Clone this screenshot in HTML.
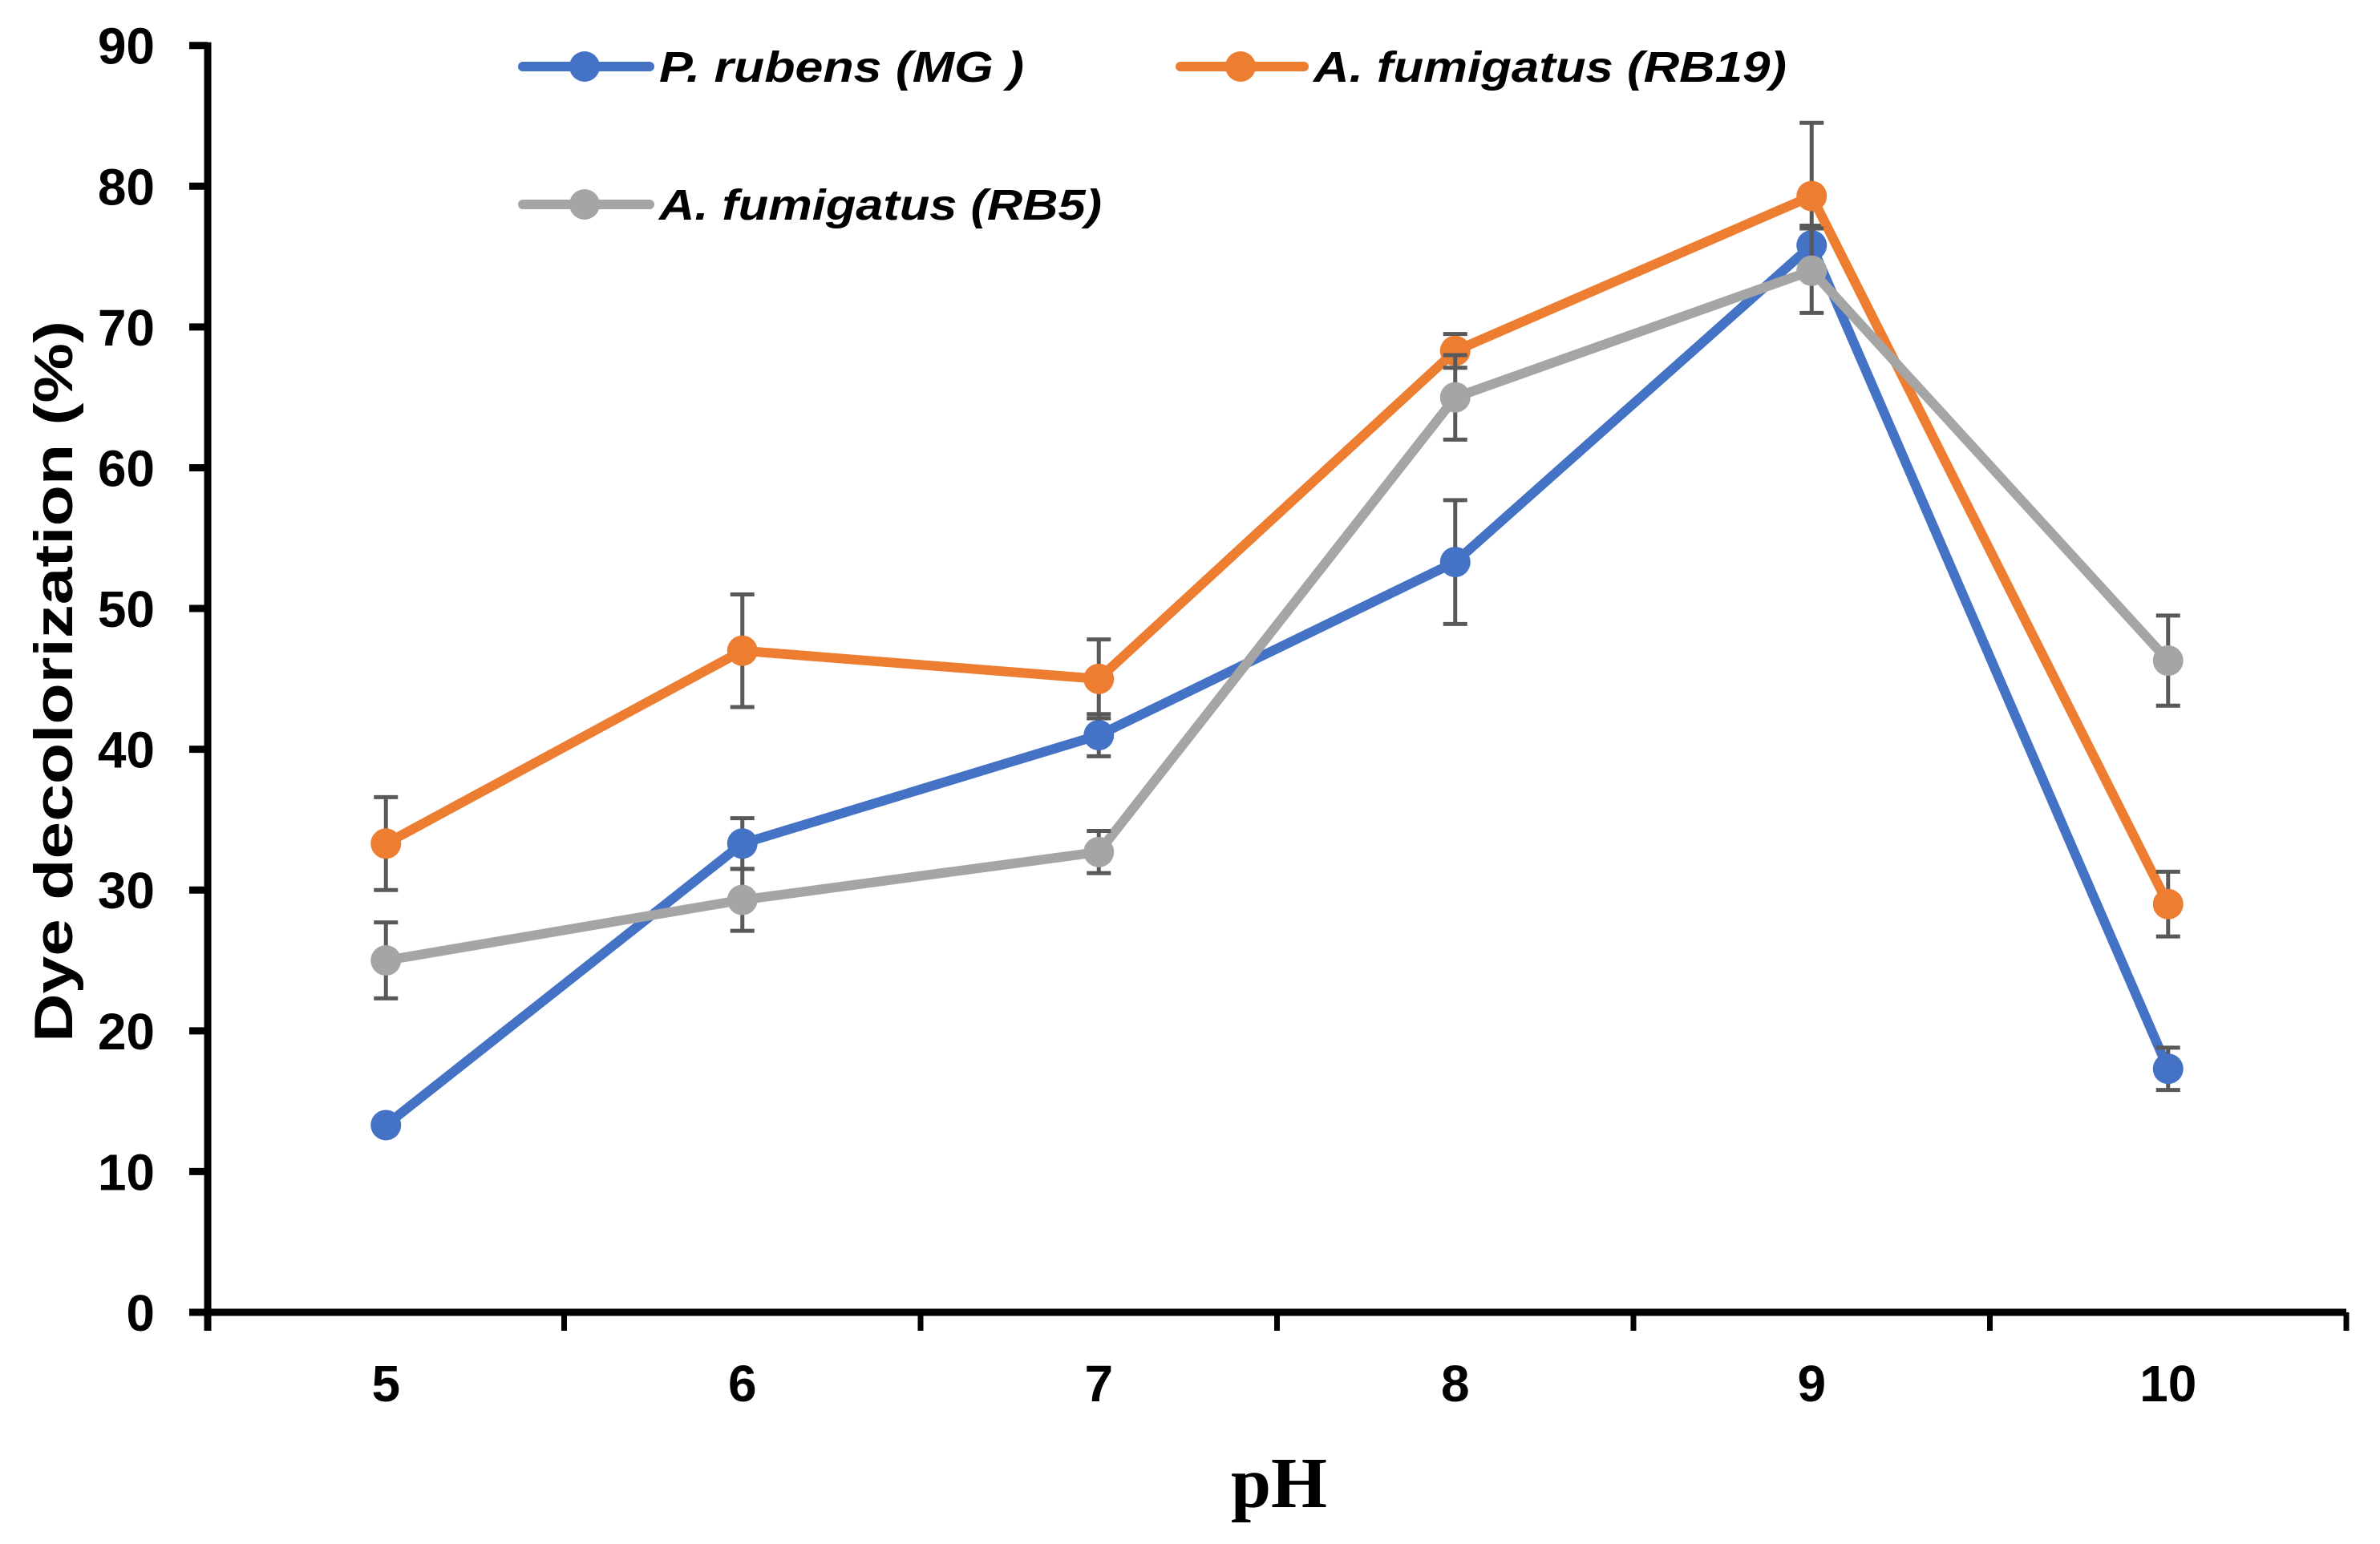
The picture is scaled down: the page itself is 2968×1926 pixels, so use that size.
<!DOCTYPE html>
<html><head><meta charset="utf-8"><style>
html,body{margin:0;padding:0;background:#fff}
svg{display:block}
</style></head><body>
<svg id="chart" width="2968" height="1926" viewBox="0 0 2968 1926" xmlns="http://www.w3.org/2000/svg">
<rect width="2968" height="1926" fill="#fff"/>
<g id="axes"></g>
<g id="series"></g>
<g id="legend">
  <g>
    <line x1="652" y1="83" x2="810" y2="83" stroke="#4472C4" stroke-width="12" stroke-linecap="round"/>
    <circle cx="729" cy="83" r="19" fill="#4472C4"/>
    <text x="822" y="102" font-family="Liberation Sans, sans-serif" font-weight="bold" font-style="italic" font-size="54" textLength="455" lengthAdjust="spacingAndGlyphs">P. rubens (MG )</text>
  </g>
  <g>
    <line x1="1472" y1="83" x2="1626" y2="83" stroke="#ED7D31" stroke-width="12" stroke-linecap="round"/>
    <circle cx="1547" cy="83" r="19" fill="#ED7D31"/>
    <text x="1638" y="102" font-family="Liberation Sans, sans-serif" font-weight="bold" font-style="italic" font-size="54" textLength="590" lengthAdjust="spacingAndGlyphs">A. fumigatus (RB19)</text>
  </g>
  <g>
    <line x1="652" y1="255" x2="810" y2="255" stroke="#A5A5A5" stroke-width="12" stroke-linecap="round"/>
    <circle cx="729" cy="255" r="19" fill="#A5A5A5"/>
    <text x="822" y="274" font-family="Liberation Sans, sans-serif" font-weight="bold" font-style="italic" font-size="54" textLength="552" lengthAdjust="spacingAndGlyphs">A. fumigatus (RB5)</text>
  </g>
</g>
<text transform="translate(90,850) rotate(-90)" text-anchor="middle" font-family="Liberation Sans, sans-serif" font-weight="bold" font-size="68" textLength="900" lengthAdjust="spacingAndGlyphs">Dye decolorization  (%)</text>
<text x="1595" y="1880" text-anchor="middle" font-family="Liberation Serif, serif" font-weight="bold" font-size="90">pH</text>
</svg>
<script>
const categories = ["5","6","7","8","9","10"];
const yTicks = [0,10,20,30,40,50,60,70,80,90];
const mgValues = [13.3,33.3,41.0,53.3,75.8,17.3];
const mgErrors = [0.5,1.8,1.5,4.4,1.4,1.5];
const rb19Values = [33.3,47.0,45.0,68.3,79.3,29.0];
const rb19Errors = [3.3,4.0,2.8,1.2,5.2,2.3];
const rb5Values = [25.0,29.3,32.7,65.0,74.0,46.3];
const rb5Errors = [2.7,2.2,1.5,3.0,3.0,3.2];

const NS="http://www.w3.org/2000/svg";
const X0=259, X1=2926, Y0=1637, Y90=56.7, YMAX=90;
const bw=(X1-X0)/categories.length;
function xPos(i){return X0+bw*(i+0.5);}
function yPos(v){return Y0-(Y0-Y90)*v/YMAX;}
function mk(tag,attrs,parent){const e=document.createElementNS(NS,tag);for(const k in attrs)e.setAttribute(k,attrs[k]);parent.appendChild(e);return e;}

const axes=document.getElementById('axes');
let yl=mk('line',{x1:X0,y1:Y90-4,x2:X0,y2:Y0+23,stroke:'#000','stroke-width':9},axes);


let xl=mk('line',{x1:X0-23,y1:Y0,x2:X1,y2:Y0,stroke:'#000','stroke-width':9},axes);


yTicks.forEach(v=>{
  const y=yPos(v);
  const t=mk('line',{x1:X0-23,y1:y,x2:X0,y2:y,stroke:'#000','stroke-width':9},axes);
  
  
  const l=mk('text',{x:193,y:y+23,'text-anchor':'end','font-family':'Liberation Sans, sans-serif','font-weight':'bold','font-size':64},axes);
  l.textContent=v;
  
  
});
for(let i=0;i<=categories.length;i++){
  const x=X0+bw*i;
  const t=mk('line',{x1:x,y1:Y0,x2:x,y2:Y0+23,stroke:'#000','stroke-width':7},axes);
  
  
}
categories.forEach((c,i)=>{
  const l=mk('text',{x:xPos(i),y:1748,'text-anchor':'middle','font-family':'Liberation Sans, sans-serif','font-weight':'bold','font-size':64},axes);
  l.textContent=c;
  
  
});

const seriesG=document.getElementById('series');
function drawSeries(vals,errs,color,name){
  const g=mk('g',{},seriesG);
  
  
  const pts=vals.map((v,i)=>xPos(i)+','+yPos(v)).join(' ');
  const pl=mk('polyline',{points:pts,fill:'none',stroke:color,'stroke-width':12,'stroke-linejoin':'round'},g);
  
  
  vals.forEach((v,i)=>{
    const x=xPos(i),yt=yPos(v+errs[i]),yb=yPos(v-errs[i]);
    const eb=mk('path',{d:`M${x},${yt}V${yb}M${x-15},${yt}H${x+15}M${x-15},${yb}H${x+15}`,stroke:'#595959','stroke-width':5,fill:'none'},g);
    
    
  });
  vals.forEach((v,i)=>{
    const c=mk('circle',{cx:xPos(i),cy:yPos(v),r:19,fill:color},g);
    
    
  });
}
drawSeries(mgValues,mgErrors,'#4472C4','p-rubens-mg');
drawSeries(rb19Values,rb19Errors,'#ED7D31','a-fumigatus-rb19');
drawSeries(rb5Values,rb5Errors,'#A5A5A5','a-fumigatus-rb5');
</script>
</body></html>
